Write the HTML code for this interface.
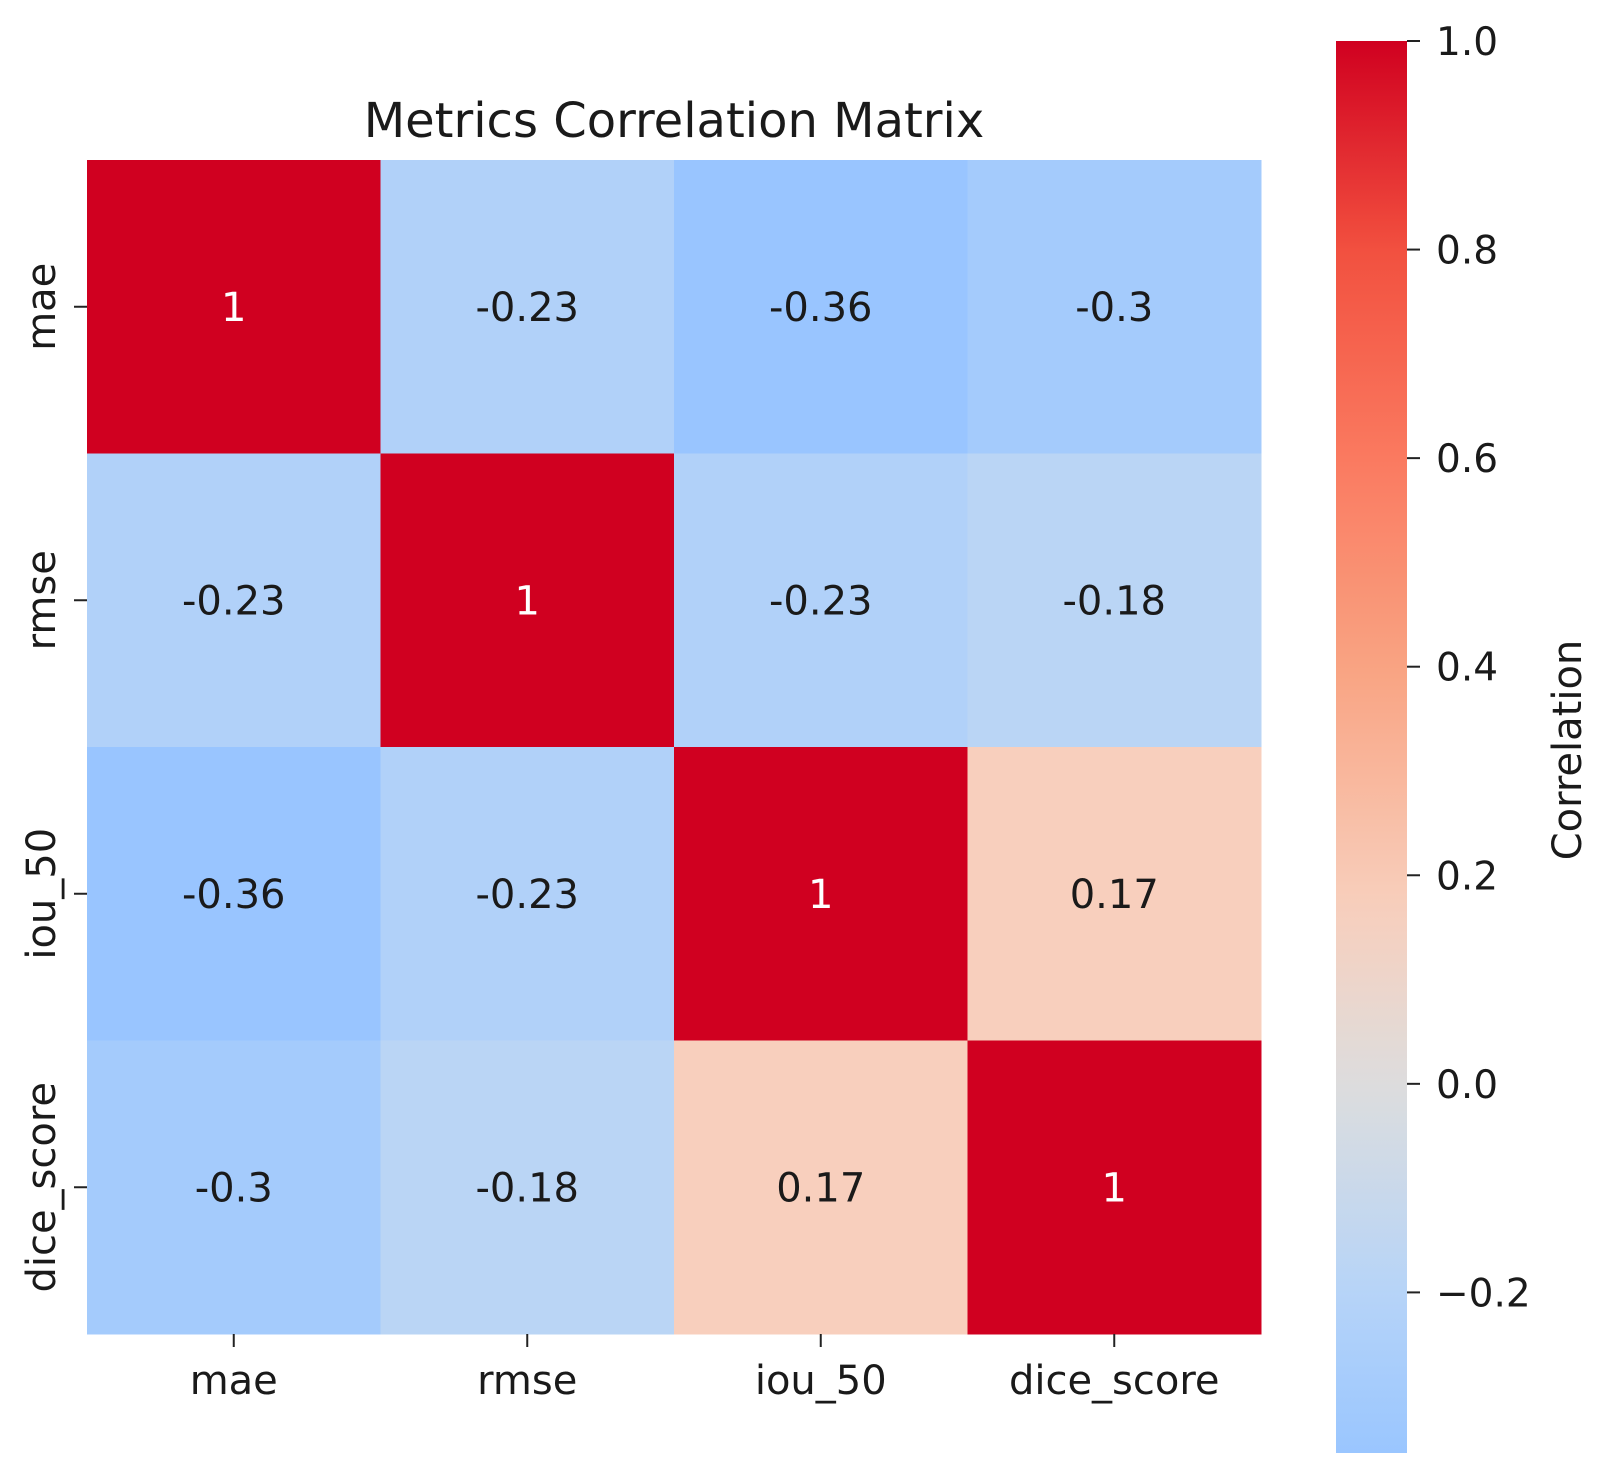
<!DOCTYPE html>
<html><head><meta charset="utf-8"><style>
body{margin:0;background:#fff;width:1602px;height:1473px;overflow:hidden}
svg text{font-family:"DejaVu Sans","Liberation Sans",sans-serif;fill:#1a1a1a}
</style></head><body>
<svg id="chart" width="1602" height="1473" xmlns="http://www.w3.org/2000/svg">
<defs><linearGradient id="cbg" x1="0" y1="1" x2="0" y2="0"></linearGradient></defs>
<text x="674" y="137" font-size="48" text-anchor="middle">Metrics Correlation Matrix</text>
<g id="cells"></g><g id="axes"></g><g id="cbar"></g>
<text transform="translate(1581,750) rotate(-90)" font-size="40" text-anchor="middle">Correlation</text>
</svg>
<script>
const labels = ["mae","rmse","iou_50","dice_score"];
const row0 = [1,-0.23,-0.36,-0.3];
const row1 = [-0.23,1,-0.23,-0.18];
const row2 = [-0.36,-0.23,1,0.17];
const row3 = [-0.3,-0.18,0.17,1];
const cbTicks = [1.0,0.8,0.6,0.4,0.2,0.0,-0.2];
const cbTickLabels = ["1.0","0.8","0.6","0.4","0.2","0.0","\u22120.2"];
const rows=[row0,row1,row2,row3];
const NS="http://www.w3.org/2000/svg";
const stops=[[-0.36,[153,197,255]],[-0.2,[182,212,248]],[0,[221,221,221]],[0.17,[248,207,189]],[0.4,[249,163,130]],[0.6,[250,122,96]],[0.8,[242,80,63]],[1.0,[208,0,32]]];
function color(v){for(let i=0;i<stops.length-1;i++){const a=stops[i],b=stops[i+1];if(v<=b[0]||i==stops.length-2){let t=Math.max(0,Math.min(1,(v-a[0])/(b[0]-a[0])));return `rgb(${a[1].map((c,k)=>Math.round(c+(b[1][k]-c)*t)).join(',')})`;}}}
const X0=87,Y0=160,S=1174/labels.length;
function xs(i){return X0+i*S} function ys(i){return Y0+i*S}
function el(t,a,p){const e=document.createElementNS(NS,t);for(const k in a)e.setAttribute(k,a[k]);p.appendChild(e);return e}
const cells=document.getElementById('cells'),axes=document.getElementById('axes'),cb=document.getElementById('cbar');
rows.forEach((r,i)=>r.forEach((v,j)=>{
 const c=el('rect',{x:xs(j),y:ys(i),width:S+0.5,height:S+0.5,fill:color(v)},cells);
 
 
 const t=el('text',{x:xs(j)+S/2,y:ys(i)+S/2+14,'font-size':40,'text-anchor':'middle'},cells);
 
 
 t.textContent=String(v);
 if(v>0.5)t.style.fill='#fff';
}));
labels.forEach((l,i)=>{
 el('line',{x1:xs(i)+S/2,x2:xs(i)+S/2,y1:1334,y2:1347,stroke:'#222','stroke-width':2},axes);
 const tx=el('text',{x:xs(i)+S/2,y:1394,'font-size':40,'text-anchor':'middle'},axes);
 
 
 tx.textContent=l;
 el('line',{x1:74,x2:87,y1:ys(i)+S/2,y2:ys(i)+S/2,stroke:'#222','stroke-width':2},axes);
 const ty=el('text',{'font-size':40,'text-anchor':'middle',transform:`translate(55,${ys(i)+S/2}) rotate(-90)`},axes);
 
 
 ty.textContent=l;
});
const vmin=-0.354,vmax=1,CT=41,CB=1453;
function cy(v){return CB-(v-vmin)/(vmax-vmin)*(CB-CT)}
const g=document.getElementById('cbg');
for(let k=0;k<=40;k++){const v=vmin+(vmax-vmin)*k/40;el('stop',{offset:k/40,'stop-color':color(v)},g);}
const bar=el('rect',{x:1336,y:CT,width:71,height:CB-CT,fill:'url(#cbg)'},cb);


cbTicks.forEach((v,i)=>{
 el('line',{x1:1407,x2:1420,y1:cy(v),y2:cy(v),stroke:'#222','stroke-width':2},cb);
 const t=el('text',{x:1436,y:cy(v)+14,'font-size':39},cb);
 
 
 t.textContent=cbTickLabels[i];
});
</script>
</body></html>
